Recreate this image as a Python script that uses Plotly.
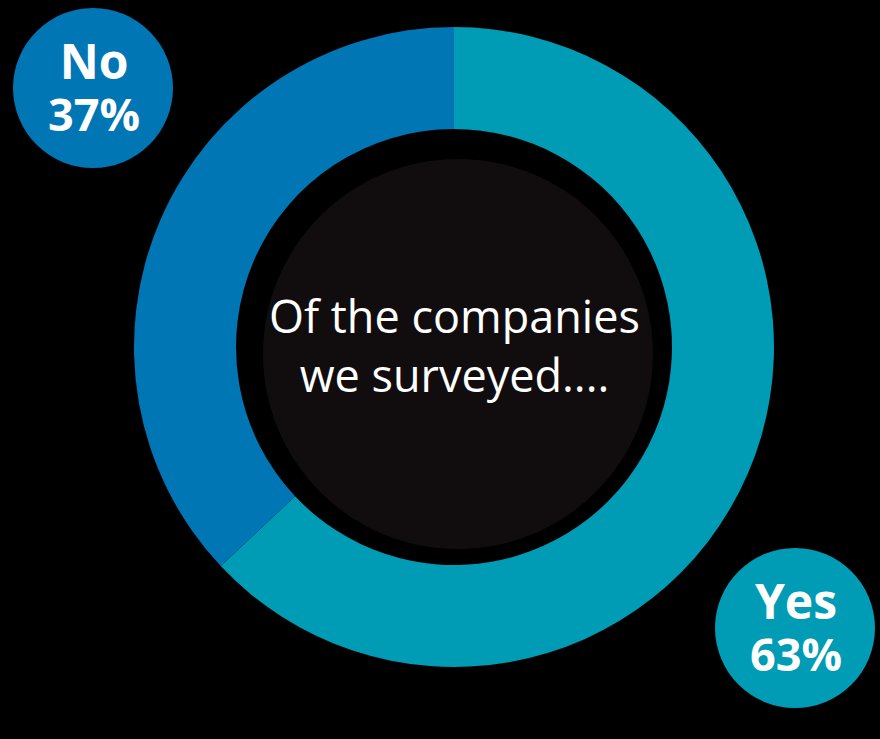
import plotly.graph_objects as go

# Data
labels = ["Yes", "No"]
values = [63, 37]
colors = ["#009BB4", "#0076B4"]
center_text = ["Of the companies", "we surveyed...."]

W, H = 880, 739
CX, CY, R_OUT, R_IN = 454, 347, 320, 218

fig = go.Figure()
fig.add_trace(go.Pie(
    labels=labels, values=values, sort=False, direction="clockwise", rotation=0,
    hole=R_IN / R_OUT,
    marker=dict(colors=colors, line=dict(width=0)),
    textinfo="none", hoverinfo="label+percent", showlegend=False,
    domain=dict(x=[(CX - R_OUT) / W, (CX + R_OUT) / W],
                y=[(H - CY - R_OUT) / H, (H - CY + R_OUT) / H]),
))

shapes = []
# inner dark disc
shapes.append(dict(type="circle", xref="x", yref="y", x0=458 - 195, x1=458 + 195,
                   y0=354 - 195, y1=354 + 195, fillcolor="#110D0E", line=dict(width=0), layer="above"))
# label bubbles
bubble_pos = {"No": (93, 88), "Yes": (795, 628)}
annotations = []
total = sum(values)
for lab, val, col in zip(labels, values, colors):
    bx, by = bubble_pos[lab]
    shapes.append(dict(type="circle", xref="x", yref="y", x0=bx - 80, x1=bx + 80,
                       y0=by - 80, y1=by + 80, fillcolor=col, line=dict(width=0), layer="above"))
    txt = (f"<b><span style='font-size:48px'>{lab}</span></b><br>"
           f"<b><span style='font-size:45px'>{round(100 * val / total)}%</span></b>")
    annotations.append(dict(x=bx + 1, y=by - 2, xref="x", yref="y", text=txt,
                            showarrow=False,
                            font=dict(family="Open Sans", size=40, color="white")))

annotations.append(dict(x=CX, y=CY - 2, xref="x", yref="y", text="<br>".join(center_text),
                        showarrow=False, font=dict(family="Open Sans", size=45, color="white")))

fig.update_layout(
    width=W, height=H, margin=dict(l=0, r=0, t=0, b=0),
    paper_bgcolor="black", plot_bgcolor="black",
    xaxis=dict(range=[0, W], visible=False, fixedrange=True),
    yaxis=dict(range=[H, 0], visible=False, fixedrange=True),
    shapes=shapes, annotations=annotations,
)
fig.write_html("out.html", config={"displayModeBar": False},
               post_script="document.body.style.margin='0';document.body.style.background='black';")
